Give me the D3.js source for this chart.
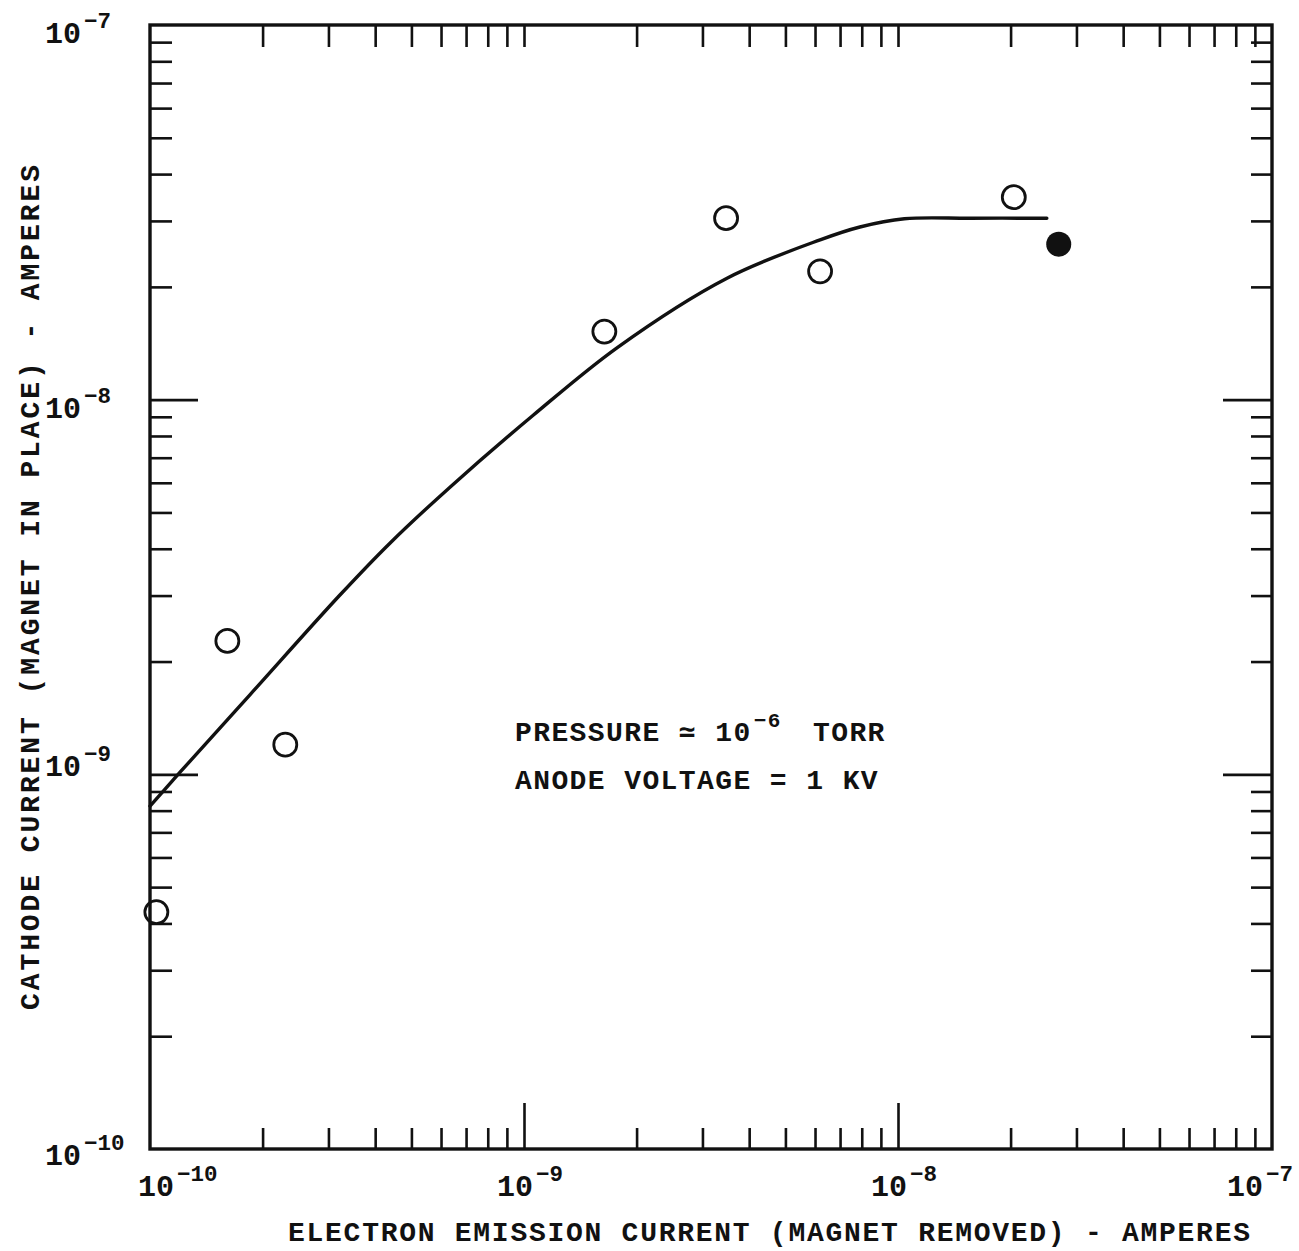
<!DOCTYPE html>
<html>
<head>
<meta charset="utf-8">
<script src="https://cdn.jsdelivr.net/npm/d3@7"></script>
<style>
  html, body { margin: 0; padding: 0; background: #fff; }
  svg { display: block; }
  text { font-family: "Liberation Mono", "DejaVu Sans Mono", monospace; fill: #111; font-weight: bold; }
</style>
</head>
<body>
<div id="chart"></div>
<script>
// decade labels on both axes
const decades = [1e-10, 1e-9, 1e-8, 1e-7];
const decadeExp = ['-10', '-9', '-8', '-7'];

// open circles (measured points)
const openX = [1.04e-10, 1.61e-10, 2.30e-10, 1.64e-9, 3.47e-9, 6.19e-9, 2.04e-8];
const openY = [4.29e-10, 2.27e-9, 1.20e-9, 1.52e-8, 3.05e-8, 2.20e-8, 3.47e-8];

// filled circle
const filledX = [2.69e-8];
const filledY = [2.60e-8];

// hand-drawn fit curve
const curveX = [1.0e-10, 1.20e-10, 1.85e-10, 3.22e-10, 4.38e-10, 6.34e-10, 1.06e-9, 1.78e-9, 3.49e-9, 6.19e-9, 7.91e-9, 1.04e-8, 1.56e-8, 2.50e-8];
const curveY = [8.23e-10, 1.01e-9, 1.63e-9, 3.01e-9, 4.14e-9, 5.84e-9, 9.10e-9, 1.38e-8, 2.11e-8, 2.67e-8, 2.89e-8, 3.04e-8, 3.05e-8, 3.05e-8];

const xTitle = 'ELECTRON EMISSION CURRENT (MAGNET REMOVED) - AMPERES';
const yTitle = 'CATHODE CURRENT (MAGNET IN PLACE) - AMPERES';

const W = 1299, H = 1251;
const L = 150, R = 1272, T = 25, B = 1149;

const svg = d3.select('#chart').append('svg')
    .attr('width', W).attr('height', H);

const x = d3.scaleLog().domain([1e-10, 1e-7]).range([L, R]);
const y = d3.scaleLog().domain([1e-10, 1e-7]).range([B, T]);

// minor ticks = 2..9 in each decade, majors = inner decades
const allTicks = x.ticks();
const minor = allTicks.filter(v => !decades.some(d => Math.abs(v / d - 1) < 1e-6));
const inner = [1e-9, 1e-8];

function axisG(gen, tx, ty) {
    const g = svg.append('g').attr('transform', `translate(${tx},${ty})`).call(gen);
    g.select('.domain').remove();
    g.selectAll('line').attr('stroke', '#111').attr('stroke-width', 2.6);
    return g;
}

// bottom
axisG(d3.axisBottom(x).tickValues(minor).tickSize(-21).tickFormat(''), 0, B);
axisG(d3.axisBottom(x).tickValues(inner).tickSize(-46).tickFormat(''), 0, B);
// top
axisG(d3.axisTop(x).tickValues(minor.concat(inner)).tickSize(-22).tickFormat(''), 0, T);
// left
axisG(d3.axisLeft(y).tickValues(minor).tickSize(-22).tickFormat(''), L, 0);
axisG(d3.axisLeft(y).tickValues(inner).tickSize(-48).tickFormat(''), L, 0);
// right
axisG(d3.axisRight(y).tickValues(minor).tickSize(-21).tickFormat(''), R, 0);
axisG(d3.axisRight(y).tickValues(inner).tickSize(-49).tickFormat(''), R, 0);

// frame
svg.append('rect')
    .attr('x', L).attr('y', T)
    .attr('width', R - L).attr('height', B - T)
    .attr('fill', 'none').attr('stroke', '#111').attr('stroke-width', 3.4);

// power-of-ten label helper
function powLabel(g, px, py, exp, size) {
    const t = g.append('text')
        .attr('x', px).attr('y', py)
        .style('font-size', size + 'px');
    t.append('tspan').text('10');
    t.append('tspan')
        .attr('dy', -size * 0.5)
        .attr('dx', 3)
        .style('font-size', (size * 0.75) + 'px')
        .text(exp.replace('-', '\u2212'));
    return t;
}

// y labels
const yLab = svg.append('g');
const yLabOff = [16, 2, 18, 18];
decades.forEach((d, i) => {
    powLabel(yLab, 45, y(d) + yLabOff[i], decadeExp[i], 30);
});

// x labels
const xLab = svg.append('g');
const xLabOff = [-12, -27, -27, -45];
decades.forEach((d, i) => {
    powLabel(xLab, x(d) + xLabOff[i], 1196, decadeExp[i], 30);
});

// axis titles
svg.append('text')
    .attr('x', 288).attr('y', 1241)
    .attr('textLength', 962).attr('lengthAdjust', 'spacing')
    .style('font-size', '28px')
    .text(xTitle);

svg.append('text')
    .attr('transform', 'translate(39,1010) rotate(-90)')
    .attr('textLength', 845).attr('lengthAdjust', 'spacing')
    .style('font-size', '28px')
    .text(yTitle);

// fit curve
const line = d3.line()
    .x(d => x(d[0]))
    .y(d => y(d[1]))
    .curve(d3.curveCatmullRom.alpha(0.5));

svg.append('path')
    .datum(d3.zip(curveX, curveY))
    .attr('d', line)
    .attr('fill', 'none')
    .attr('stroke', '#111')
    .attr('stroke-width', 3.4)
    .attr('stroke-linecap', 'round');

// open points
svg.append('g').selectAll('circle')
    .data(d3.zip(openX, openY))
    .join('circle')
    .attr('cx', d => x(d[0]))
    .attr('cy', d => y(d[1]))
    .attr('r', 11.5)
    .attr('fill', 'none')
    .attr('stroke', '#111')
    .attr('stroke-width', 2.8);

// filled point
svg.append('g').selectAll('circle')
    .data(d3.zip(filledX, filledY))
    .join('circle')
    .attr('cx', d => x(d[0]))
    .attr('cy', d => y(d[1]))
    .attr('r', 12.5)
    .attr('fill', '#111');

// annotation
const note = svg.append('g').style('font-size', '28px').style('letter-spacing', '1.4px');
const n1 = note.append('text').attr('x', 515).attr('y', 741);
n1.append('tspan').text('PRESSURE \u2243 10');
n1.append('tspan').attr('dy', -14).attr('dx', 2).style('font-size', '21px').text('\u22126');
n1.append('tspan').attr('dy', 14).attr('x', 813).text('TORR');
note.append('text').attr('x', 515).attr('y', 789).text('ANODE VOLTAGE = 1 KV');
</script>
</body>
</html>
